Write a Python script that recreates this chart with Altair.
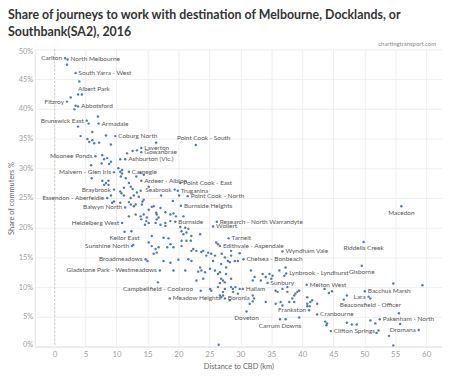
import altair as alt
import pandas as pd

# Labelled SA2s: name, distance to CBD (km), share of commuters (%), label side
label_names = [
    "Carlton", "North Melbourne", "South Yarra - West", "Albert Park", "Fitzroy",
    "Abbotsford", "Brunswick East", "Armadale", "Coburg North", "Laverton",
    "Gowanbrae", "Point Cook - South", "Moonee Ponds", "Ashburton (Vic.)",
    "Malvern - Glen Iris", "Carnegie", "Ardeer - Albion", "Point Cook - East",
    "Braybrook", "Seabrook", "Truganina", "Essendon - Aberfeldie",
    "Point Cook - North", "Balwyn North", "Burnside Heights", "Heidelberg West",
    "Burnside", "Research - North Warrandyte", "Wollert", "Keilor East", "Tarneit",
    "Sunshine North", "Edithvale - Aspendale", "Wyndham Vale", "Broadmeadows",
    "Chelsea - Bonbeach", "Gladstone Park - Westmeadows", "Lynbrook - Lyndhurst",
    "Campbellfield - Coolaroo", "Sunbury", "Hallam", "Melton West",
    "Meadow Heights", "Boronia", "Frankston", "Doveton", "Carrum Downs",
    "Cranbourne", "Clifton Springs", "Macedon", "Riddells Creek", "Gisborne",
    "Bacchus Marsh", "Lara", "Beaconsfield - Officer", "Pakenham - North", "Dromana",
]
label_km = [
    1.7, 2.1, 3.4, 3.8, 2.0,
    3.8, 5.2, 7.1, 9.8, 14.0,
    14.0, 22.8, 6.6, 11.4,
    9.6, 12.0, 14.0, 20.3,
    9.6, 19.4, 19.9, 8.5,
    21.5, 11.4, 20.4, 10.9,
    19.5, 26.2, 25.6, 11.3, 28.1,
    12.5, 26.7, 36.8, 14.7,
    30.5, 17.0, 37.4,
    16.7, 34.4, 30.4, 40.7,
    18.6, 27.5, 41.1, 31.0, 36.4,
    42.4, 44.6, 56.0, 49.9, 49.6,
    50.1, 50.7, 51.0, 52.5, 58.8,
]
label_pct = [
    48.5, 48.3, 46.0, 42.4, 41.2,
    40.4, 38.0, 37.5, 35.4, 33.4,
    32.7, 33.9, 32.0, 31.5,
    29.3, 29.4, 27.9, 27.5,
    26.4, 26.4, 26.2, 25.0,
    25.3, 23.4, 23.7, 20.8,
    21.0, 21.0, 20.2, 19.3, 18.2,
    16.9, 16.9, 16.0, 14.7,
    14.7, 12.8, 12.3,
    10.8, 10.7, 9.7, 10.4,
    8.1, 8.1, 6.1, 5.9, 4.6,
    5.4, 2.6, 23.6, 17.6, 13.6,
    9.3, 8.4, 8.1, 4.6, 2.8,
]
label_side = [
    "l", "r", "r", "al", "l",
    "r", "l", "r", "r", "r",
    "r", "a", "l", "r",
    "l", "r", "r", "r",
    "l", "l", "r", "l",
    "r", "l", "r", "l",
    "r", "r", "r", "b", "r",
    "l", "r", "r", "l",
    "r", "l", "r",
    "b", "r", "r", "r",
    "r", "r", "l", "b", "b",
    "r", "r", "b", "b", "b",
    "r", "l", "b", "r", "l",
]

# Unlabelled SA2s
other_km = [
    2.0, 4.0, 4.4, 2.6, 3.4, 3.2, 7.0, 5.5, 3.8, 6.1, 8.3, 4.2, 5.3, 6.1, 5.6, 6.4, 7.2, 9.1, 16.4,
    7.7, 8.5, 8.0, 9.1, 8.8, 7.6, 10.6, 11.7, 12.6, 13.3,
    5.9, 6.0,
    10.3, 10.6, 10.9, 10.9, 10.7, 11.5, 13.2, 13.9, 14.4,
    7.7, 8.3, 8.7, 8.0, 8.7,
    12.0, 12.6, 13.3, 13.9, 13.6, 11.2, 12.3, 15.2,
    10.6, 10.8, 11.2, 12.3, 12.8, 12.0, 9.1, 9.6, 9.3, 10.6,
    17.2, 14.4, 13.1, 19.1, 20.1, 14.2,
    12.3, 12.8, 14.1,
    15.7, 17.1, 16.0, 15.2, 16.4, 17.9, 18.7, 19.2, 19.6, 20.8,
    12.0, 13.1, 13.9, 14.4, 14.0, 14.9, 15.2, 16.5, 16.8, 16.3, 17.1, 17.9,
    14.8, 14.6, 16.5, 17.9, 18.7,
    20.3, 20.5, 21.1, 21.6, 20.8, 21.3, 22.1, 23.5,
    12.4, 12.7,
    15.7, 15.2, 15.7, 16.3, 16.5, 16.0, 16.8, 15.0,
    17.6, 18.4, 18.7, 20.5, 21.3, 18.2, 19.2, 20.5, 22.0,
    22.4, 22.9, 24.0, 24.8, 24.5, 22.1, 23.7, 25.3, 25.9, 26.1, 26.4,
    17.6, 18.7, 20.0, 21.6, 22.1,
    23.5, 23.7, 24.3, 23.2, 19.2, 21.1, 25.1, 25.9, 26.7, 27.7,
    25.6, 26.9, 27.5, 28.0, 29.1, 29.6, 28.3, 27.0, 28.5, 29.9, 28.5,
    26.4, 26.9, 27.5, 26.7, 27.7, 28.5, 27.2,
    22.9, 24.0, 25.1, 25.3, 26.4, 28.5, 28.8, 29.2,
    23.6, 27.2, 28.3, 27.5, 29.9, 28.8, 29.6, 27.2, 26.7, 26.9,
    31.7, 32.3, 32.0, 33.3, 34.7, 35.2, 35.0, 33.6, 34.1,
    36.3, 37.3, 37.1,
    36.0, 36.8, 37.6, 38.9, 39.2, 38.4, 35.7, 37.6, 38.7, 39.5,
    40.8, 41.6, 41.3, 42.4, 40.8, 38.7, 37.9, 35.7, 36.5, 36.8, 34.1, 32.0, 31.5, 32.0, 32.2,
    40.8, 41.2,
    37.3, 39.5, 43.7, 44.0, 43.9,
    43.6, 44.3, 44.8, 47.2, 46.7,
    47.2, 48.0, 48.8, 51.0, 51.8, 55.6, 55.8, 52.3, 52.0, 54.0, 54.7,
    54.7, 59.4, 26.5,
]
other_pct = [
    47.4, 44.6, 42.4, 41.9, 40.5, 39.9, 38.7, 37.5, 37.0, 36.1, 35.5, 35.4, 34.9, 34.7, 34.4, 34.2, 34.3, 34.0, 34.3,
    32.2, 31.7, 31.5, 31.1, 30.7, 30.8, 31.5, 32.5, 32.9, 33.0,
    30.5, 28.3,
    30.0, 29.4, 29.7, 29.1, 28.6, 28.3, 28.6, 29.2, 28.9,
    27.9, 27.5, 27.9, 27.2, 27.2,
    27.5, 26.5, 25.9, 26.2, 25.2, 26.7, 26.9, 26.9,
    26.1, 25.8, 25.4, 25.0, 25.4, 24.3, 25.4, 24.4, 24.2, 24.2,
    25.4, 24.7, 23.9, 24.5, 25.4, 24.4,
    23.9, 23.6, 23.9,
    23.5, 23.3, 23.6, 23.0, 22.5, 22.6, 22.2, 22.4, 21.9, 21.9,
    21.9, 22.2, 21.9, 22.2, 21.4, 21.7, 20.8, 22.2, 21.7, 20.8, 20.5, 20.3,
    21.1, 20.5, 21.4, 20.8, 21.1,
    20.1, 19.4, 20.0, 19.8, 18.9, 19.2, 18.6, 18.9,
    19.4, 17.1,
    18.6, 17.5, 16.9, 16.4, 15.8, 15.6, 16.7, 14.4,
    18.3, 18.2, 17.2, 16.9, 17.8, 16.7, 16.7, 17.8, 17.8,
    16.4, 16.1, 16.1, 15.8, 15.3, 16.1, 15.9, 15.6, 15.3, 17.5, 17.2,
    14.4, 14.1, 14.6, 14.7, 14.4,
    13.3, 12.8, 12.5, 12.6, 12.8, 12.8, 13.1, 12.8, 12.5, 13.3,
    14.4, 13.9, 15.0, 14.4, 14.4, 14.4, 14.2, 15.6, 15.3, 15.7, 16.1,
    12.2, 11.4, 10.8, 10.7, 12.2, 11.4, 11.1,
    11.1, 11.4, 9.7, 9.4, 10.0, 10.0, 9.7, 10.0,
    9.4, 8.6, 7.8, 9.7, 9.7, 9.2, 8.9, 9.2, 8.6, 8.3,
    12.8, 11.7, 11.1, 11.1, 12.2, 11.9, 11.4, 12.2, 11.7,
    12.8, 13.3, 11.9,
    9.2, 9.7, 9.2, 8.9, 9.2, 8.1, 9.4, 10.0, 8.6, 9.4,
    8.3, 7.8, 7.5, 7.2, 7.2, 7.5, 7.5, 7.2, 7.5, 6.9, 7.5, 7.6, 7.2, 8.6, 8.1,
    6.8, 6.8,
    4.6, 4.9, 4.2, 3.9, 3.6,
    9.7, 9.0, 9.3, 8.6, 7.9,
    4.0, 3.7, 3.7, 4.4, 3.9, 5.6, 3.8, 2.7, 2.3, 1.8, 0.2,
    10.6, 10.3, 0.3,
]

title_lines = [
    "Share of journeys to work with destination of Melbourne, Docklands, or",
    "Southbank(SA2), 2016",
]
caption = "chartingtransport.com"
x_ticks = list(range(0, 61, 5))
y_ticks = list(range(0, 51, 5))

points = pd.DataFrame({"km": label_km + other_km, "pct": label_pct + other_pct})
labels = pd.DataFrame({"name": label_names, "km": label_km, "pct": label_pct, "side": label_side})

FONT = "Lato"
LABEL_COLOR = "#555555"

X = alt.X(
    "km:Q",
    scale=alt.Scale(domain=[-3.2, 62.56], nice=False, zero=False),
    axis=alt.Axis(
        values=x_ticks, grid=True, gridColor="#efefef", domain=True, domainColor="#e4e4e4",
        ticks=False, labelColor="#a0a0a0", labelFontSize=8, labelFont=FONT, labelPadding=4,
        title="Distance to CBD (km)", titleFont=FONT, titleFontSize=7.5, titleColor="#666666",
        titleFontWeight="normal", titleY=20, titleBaseline="middle",
    ),
)
Y = alt.Y(
    "pct:Q",
    scale=alt.Scale(domain=[0, 50], nice=False, zero=False),
    axis=alt.Axis(
        values=y_ticks, labelExpr="datum.value + '%'", grid=True, gridColor="#efefef",
        domain=True, domainColor="#e4e4e4", ticks=False, labelColor="#a0a0a0", labelFontSize=7.5,
        labelFont=FONT, labelPadding=2, labelFlush=True, labelFlushOffset=2,
        title="Share of commuters %", titleFont=FONT, titleFontSize=7.5, titleColor="#666666",
        titleFontWeight="normal", titleX=-23, titleY=150, titleAngle=-90,
        titleAlign="center", titleBaseline="middle",
    ),
)

zero = alt.Chart(pd.DataFrame({"km": [0]})).mark_rule(
    color="#cfcfcf", strokeDash=[2, 2], strokeWidth=1
).encode(x=X)

dots = alt.Chart(points).mark_circle(size=6, color="#5079ad", opacity=1).encode(x=X, y=Y)

text_base = alt.Chart(labels).encode(x=X, y=Y, text="name:N")
tstyle = dict(font=FONT, fontSize=6.5, color=LABEL_COLOR, baseline="middle")
lab_r = text_base.transform_filter(alt.datum.side == "r").mark_text(align="left", dx=3, **tstyle)
lab_l = text_base.transform_filter(alt.datum.side == "l").mark_text(align="right", dx=-3, **tstyle)
lab_b = text_base.transform_filter(alt.datum.side == "b").mark_text(align="center", dy=6.5, **tstyle)
lab_a = text_base.transform_filter(alt.datum.side == "a").mark_text(align="center", dx=8, dy=-7, **tstyle)
lab_al = text_base.transform_filter(alt.datum.side == "al").mark_text(align="left", dx=0, dy=-6, **tstyle)

cap = alt.Chart(pd.DataFrame({"t": [caption]})).mark_text(
    align="right", baseline="middle", font=FONT, fontSize=6, color="#888888"
).encode(x=alt.value(405), y=alt.value(-5), text="t:N")

chart = alt.layer(zero, dots, lab_r, lab_l, lab_b, lab_a, lab_al, cap).properties(
    width=411,
    height=300,
    autosize=alt.AutoSizeParams(type="none"),
    padding={"left": 27, "top": 40, "right": 0, "bottom": 26},
    title=alt.TitleParams(
        text=title_lines, anchor="start", frame="group", font=FONT, fontSize=12.5,
        fontWeight="bold", color="#333333", dx=-27, lineHeight=17, offset=3,
    ),
).configure_view(stroke=None)

chart.save("out.html", embed_options={"renderer": "svg", "actions": False})
